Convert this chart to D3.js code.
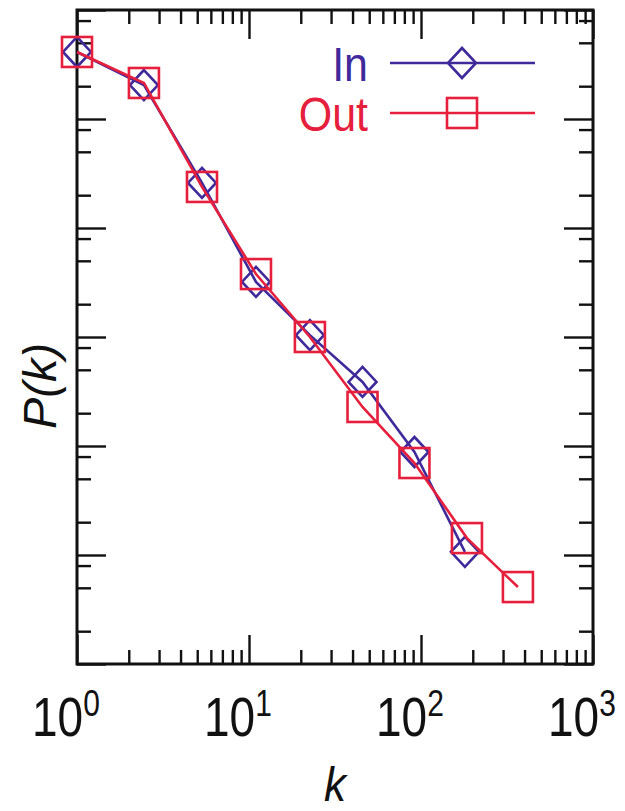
<!DOCTYPE html>
<html>
<head>
<meta charset="utf-8">
<script src="https://cdn.jsdelivr.net/npm/d3@7"></script>
<style>
  html, body { margin: 0; padding: 0; background: #fff; }
  svg { display: block; font-family: "Liberation Sans", Arial, sans-serif; }
</style>
</head>
<body>
<svg id="chart" width="625" height="811"></svg>
<script>
// Data (log-binned degree distribution)
const kIn = [1, 2.45, 5.33, 10.98, 22.6, 45.7, 91.6, 180];
const pIn = [0.412, 0.205, 0.0259, 0.0032, 0.00104, 3.87e-4, 8.81e-5, 1.07e-5];
const kOut = [1, 2.45, 5.33, 10.98, 22.6, 45.7, 91.6, 185, 366];
const pOut = [0.412, 0.214, 0.0238, 0.00378, 0.001, 2.28e-4, 6.98e-5, 1.43e-5, 5.08e-6];

const xDecades = [1, 10, 100, 1000];
const xExponents = ["0", "1", "2", "3"];
const yDecades = [1e-6, 1e-5, 1e-4, 1e-3, 1e-2, 1e-1, 1];
const yMinorSteps = [2, 5, 8];

const seriesNames = ["In", "Out"];
const colors = { In: "#40299a", Out: "#e6203c" };

const svg = d3.select("#chart");
const width = +svg.attr("width");
const height = +svg.attr("height");
const margin = { top: 10, right: 32, bottom: 147, left: 77 };
const w = width - margin.left - margin.right;
const h = height - margin.top - margin.bottom;

const g = svg.append("g").attr("transform", `translate(${margin.left},${margin.top})`);

const x = d3.scaleLog().domain([1, 1000]).range([0, w]);
const y = d3.scaleLog().domain([1e-6, 1]).range([h, 0]);

// minor tick values
const xMinor = [];
xDecades.slice(0, -1).forEach(d => { for (let m = 2; m <= 9; m++) xMinor.push(d * m); });
const yMinor = [];
yDecades.slice(0, -1).forEach(d => yMinorSteps.forEach(m => yMinor.push(d * m)));

const MAJ = 29, MIN = 14;

function styleAxis(sel) {
  sel.select(".domain").remove();
  sel.selectAll(".tick line").attr("stroke", "#111").attr("stroke-width", 2.4);
  sel.selectAll(".tick text").remove();
}

// inward ticks on all four sides
[[d3.axisBottom, h], [d3.axisTop, 0]].forEach(([ax, ty]) => {
  g.append("g").attr("transform", `translate(0,${ty})`)
    .call(ax(x).tickValues(xDecades).tickSizeInner(-MAJ).tickSizeOuter(0)).call(styleAxis);
  g.append("g").attr("transform", `translate(0,${ty})`)
    .call(ax(x).tickValues(xMinor).tickSizeInner(-MIN).tickSizeOuter(0)).call(styleAxis);
});
[[d3.axisLeft, 0], [d3.axisRight, w]].forEach(([ax, tx]) => {
  g.append("g").attr("transform", `translate(${tx},0)`)
    .call(ax(y).tickValues(yDecades).tickSizeInner(-MAJ).tickSizeOuter(0)).call(styleAxis);
  g.append("g").attr("transform", `translate(${tx},0)`)
    .call(ax(y).tickValues(yMinor).tickSizeInner(-MIN).tickSizeOuter(0)).call(styleAxis);
});

// frame
g.append("rect").attr("width", w).attr("height", h)
  .attr("fill", "none").attr("stroke", "#111").attr("stroke-width", 3);

// x tick labels 10^n
const lab = svg.append("g").attr("fill", "#111");
xDecades.forEach((d, i) => {
  const t = lab.append("text")
    .attr("transform", `translate(${margin.left + x(d) - 45},${margin.top + h + 72}) scale(1,1.2)`)
    .attr("font-size", 46);
  t.append("tspan").text("10");
  t.append("tspan").attr("dy", -17).attr("font-size", 30).text(xExponents[i]);
});

// axis titles
svg.append("text")
  .attr("transform", "translate(335,801) scale(1,1.1)")
  .attr("text-anchor", "middle")
  .attr("font-size", 44).attr("font-style", "italic").attr("fill", "#111")
  .text("k");
svg.append("text")
  .attr("transform", "translate(56,386) rotate(-90)")
  .attr("text-anchor", "middle")
  .attr("font-size", 47).attr("font-style", "italic").attr("fill", "#111")
  .text("P(k)");

// series
const data = {
  In: kIn.map((k, i) => ({ k, p: pIn[i] })),
  Out: kOut.map((k, i) => ({ k, p: pOut[i] }))
};
const line = d3.line().x(d => x(d.k)).y(d => y(d.p));

function marker(sel, name) {
  if (name === "In") {
    sel.append("path").attr("d", "M0,-15L14,0L0,15L-14,0Z");
  } else {
    sel.append("rect").attr("x", -15).attr("y", -15).attr("width", 30).attr("height", 30);
  }
}

seriesNames.forEach(name => {
  const c = colors[name];
  g.append("path").datum(data[name])
    .attr("d", line).attr("fill", "none").attr("stroke", c).attr("stroke-width", 2.6);
  g.selectAll(null).data(data[name]).enter().append("g")
    .attr("transform", d => `translate(${x(d.k)},${y(d.p)})`)
    .attr("fill", "none").attr("stroke", c).attr("stroke-width", 2.6)
    .each(function () { marker(d3.select(this), name); });
});

// legend
const legendRows = [{ name: "In", y: 63 }, { name: "Out", y: 113 }];
legendRows.forEach(r => {
  const c = colors[r.name];
  svg.append("line").attr("x1", 390).attr("x2", 535).attr("y1", r.y).attr("y2", r.y)
    .attr("stroke", c).attr("stroke-width", 2.6);
  const m = svg.append("g").attr("transform", `translate(462,${r.y})`)
    .attr("fill", "none").attr("stroke", c).attr("stroke-width", 2.6);
  marker(m, r.name);
  svg.append("text")
    .attr("transform", `translate(368,${r.y + 18}) scale(1,1.12)`)
    .attr("text-anchor", "end")
    .attr("font-size", 43).attr("fill", c)
    .text(r.name);
});
</script>
</body>
</html>
